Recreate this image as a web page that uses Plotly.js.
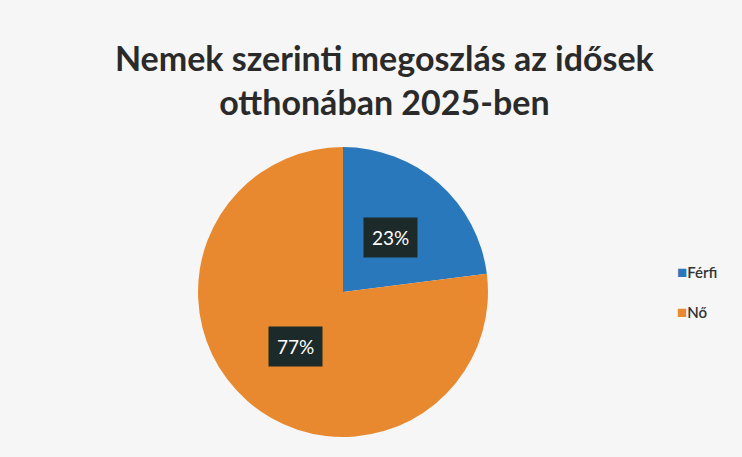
<!DOCTYPE html>
<html>
<head>
<meta charset="utf-8">
<script src="https://cdn.plot.ly/plotly-3.0.1.min.js"></script>
<style>html,body{margin:0;padding:0;background:#f5f5f5;}#chart{width:742px;height:457px;}</style>
</head>
<body>
<div id="chart"></div>
<script>
const labels = ["Férfi", "Nő"];
const values = [23, 77];
const colors = ["#2878bb", "#e8892f"];
const titleText = "Nemek szerinti megoszlás az idősek<br>otthonában 2025-ben";

const W = 742, H = 457;
const dom = {x: [0.2668, 0.6577], y: [0.0438, 0.6783]};

// label positions along each slice's mid-angle (clockwise from 12 o'clock)
const total = values.reduce((a, b) => a + b, 0);
const cx = (dom.x[0] + dom.x[1]) / 2 * W;
const cy = (1 - (dom.y[0] + dom.y[1]) / 2) * H;
const R = (dom.x[1] - dom.x[0]) * W / 2;
const annotations = [];
let cum = 0;
values.forEach((v, i) => {
  const mid = (cum + v / 2) / total * 2 * Math.PI;
  cum += v;
  const r = 0.5 * R;
  const px = cx + r * Math.sin(mid);
  const py = cy - r * Math.cos(mid);
  annotations.push({
    x: px / W, y: 1 - py / H, xref: "paper", yref: "paper",
    text: Math.round(v / total * 100) + "%", showarrow: false,
    font: {family: "Lato, sans-serif", size: 19, color: "#ffffff"},
    bgcolor: "#1c2a29", borderpad: 8, xanchor: "center", yanchor: "middle"
  });
});
// legend built from labels/colors
labels.forEach((lab, i) => {
  annotations.push({
    x: 0.91, y: 1 - (271 + i * 40) / H, xref: "paper", yref: "paper",
    xanchor: "left", yanchor: "middle", showarrow: false,
    text: "<span style='color:" + colors[i] + ";font-size:17px'>■</span>" + lab,
    font: {family: "Lato, sans-serif", size: 15, color: "#333333", weight: 600}
  });
});

const data = [{
  type: "pie", labels: labels, values: values, sort: false,
  direction: "clockwise", rotation: 0,
  marker: {colors: colors, line: {width: 0}},
  textinfo: "none", hoverinfo: "label+percent",
  domain: dom, showlegend: false
}];

const layout = {
  width: W, height: H,
  margin: {l: 0, r: 0, t: 0, b: 0},
  paper_bgcolor: "#f6f6f6",
  plot_bgcolor: "#f6f6f6",
  title: {
    text: titleText, x: 0.518, xanchor: "center", xref: "paper",
    y: 0.845, yanchor: "top", yref: "container",
    font: {family: "Lato, sans-serif", size: 34, color: "#2a2a2a", weight: "bold"}
  },
  showlegend: false,
  annotations: annotations
};

Plotly.newPlot("chart", data, layout, {displayModeBar: false, staticPlot: true});
</script>
</body>
</html>
